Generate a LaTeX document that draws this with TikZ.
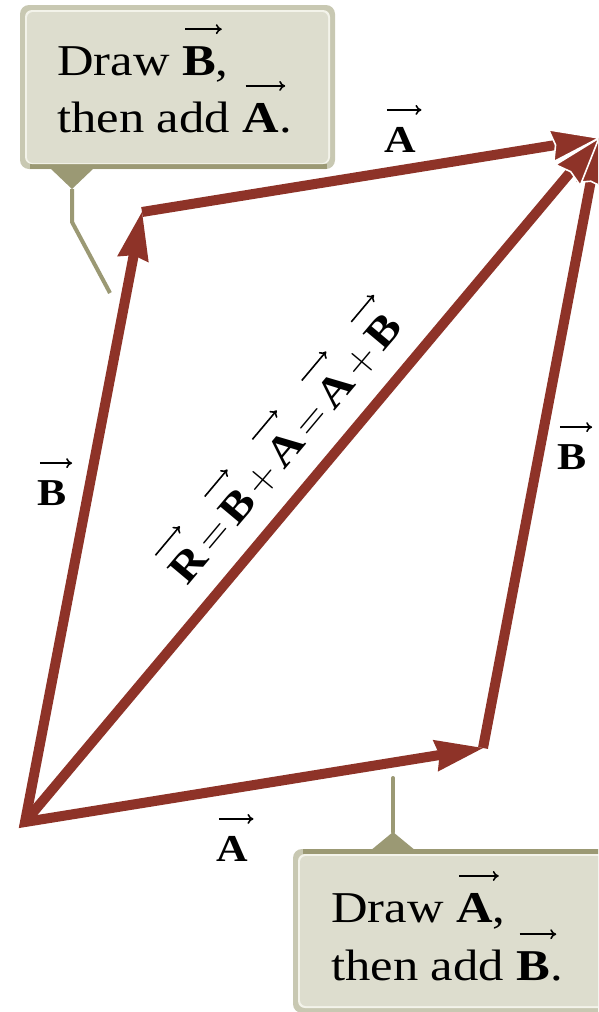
\RequirePackage{fix-cm}
\documentclass[tikz,border=0pt]{standalone}
\usepackage{fontspec}
\setmainfont{Liberation Serif}[FakeStretch=1.15]
\usetikzlibrary{calc,arrows.meta}
\definecolor{vecred}{RGB}{142,51,40}
\definecolor{calolive}{RGB}{155,153,116}
\definecolor{caledge}{RGB}{200,200,178}
\definecolor{calhi}{RGB}{243,243,234}
\definecolor{calfill}{RGB}{221,221,206}
\newbox\vbx
\newlength\vbw
\newcommand{\vb}[1]{\setbox\vbx\hbox{\bfseries #1}\vbw=\wd\vbx\vbox{\offinterlineskip\hbox to\vbw{\hskip0.06\vbw\tikz\draw[black,line width=1.6pt,-{To[length=6pt,width=10pt]}] (0pt,0pt) -- (\vbw+3pt,0pt);\hss}\kern12pt\box\vbx}}
\newcommand{\vhead}[3][]{\fill[vecred,#1] (#3) -- ($(#3)!51pt!18.4:(#2)$) -- ($(#3)!44pt!(#2)$) -- ($(#3)!51pt!-18.4:(#2)$) -- cycle;}
\tikzset{
  shaft/.style={draw=vecred, line width=10pt},
  lab/.style={font=\fontsize{38}{40}\selectfont, inner sep=0pt, anchor=base},
  diag/.style={font=\fontsize{42}{44}\selectfont, inner sep=0pt, anchor=base},
  ctext/.style={font=\fontsize{44}{48}\selectfont, inner sep=0pt, anchor=base west},
  pointer/.style={draw=calolive, line width=4pt},
  whiteedge/.style={draw=white, line width=1.6pt, line join=miter}
}
\begin{document}
\begin{tikzpicture}[x=1pt,y=-1pt]
\useasboundingbox (0,0) rectangle (598,1012);
\clip (0,0) rectangle (598,1012);
\fill[white] (0,0) rectangle (598,1012);
% ---------- callout boxes ----------
% top
\fill[caledge, rounded corners=9pt] (20,5) rectangle (335,169);
\fill[calolive] (30,164) rectangle (327,169);
\fill[calhi, rounded corners=7pt] (25,10) rectangle (330,164);
\fill[calfill, rounded corners=6pt] (27,12) rectangle (328,163);
\coordinate (tp1) at (50,168);
\coordinate (tp2) at (94,168);
\coordinate (tpa) at (72,189);
\coordinate (tpb) at (72,222);
\coordinate (tpc) at (110,293);
\fill[calolive] (tp1) -- (tp2) -- (tpa) -- cycle;
\draw[pointer] (tpa) -- (tpb) -- (tpc);
\node[ctext] (t1) at (57,75) {Draw \vb{B},};
\node[ctext] (t2) at (57,132) {then add \vb{A}.};
% bottom
\fill[caledge, rounded corners=9pt] (293,849) rectangle (612,1013);
\fill[calolive] (303,849) rectangle (612,854);
\fill[calhi, rounded corners=7pt] (298,854) rectangle (607,1008);
\fill[calfill, rounded corners=6pt] (300,856) rectangle (605,1006);
\coordinate (bp1) at (370,851);
\coordinate (bp2) at (416,851);
\coordinate (bpa) at (393,832);
\coordinate (bpb) at (393,778);
\fill[calolive] (bp1) -- (bp2) -- (bpa) -- cycle;
\draw[pointer, line cap=round] (bpa) -- (bpb);
\node[ctext] (t3) at (331,922) {Draw \vb{A},};
\node[ctext] (t4) at (331,980) {then add \vb{B}.};
% ---------- vectors ----------
\coordinate (O) at (25,822);
\coordinate (A) at (483,748);
\coordinate (P) at (142,212);
\coordinate (Q) at (599,138);
\draw[shaft, line join=miter] ($(P)!42pt!(O)$) -- (O) -- ($(A)!42pt!(O)$);
\vhead{O}{P}
\vhead{O}{A}
% B from A to Q
\draw[shaft] (A) -- ($(Q)!42pt!(A)$);
\vhead[whiteedge]{A}{Q}
% R from O to Q
\draw[shaft] (O) -- ($(Q)!42pt!(O)$);
\vhead[whiteedge]{O}{Q}
% A from P to Q
\draw[shaft] (P) -- ($(Q)!42pt!(P)$);
\vhead[whiteedge]{P}{Q}
% ---------- labels ----------
\node[lab] (la1) at (400,152) {\vb{A}};
\node[lab] (la2) at (232,861) {\vb{A}};
\node[lab] (lb1) at (52,505) {\vb{B}};
\node[lab] (lb2) at (572,469) {\vb{B}};
\node[diag, rotate=50] (lr) at (296,457) {\vb{R}\kern0.14em$=$\kern0.14em\vb{B}\kern0.14em$+$\kern0.14em\vb{A}\kern0.14em$=$\kern0.14em\vb{A}\kern0.14em$+$\kern0.14em\vb{B}};
\end{tikzpicture}
\end{document}
